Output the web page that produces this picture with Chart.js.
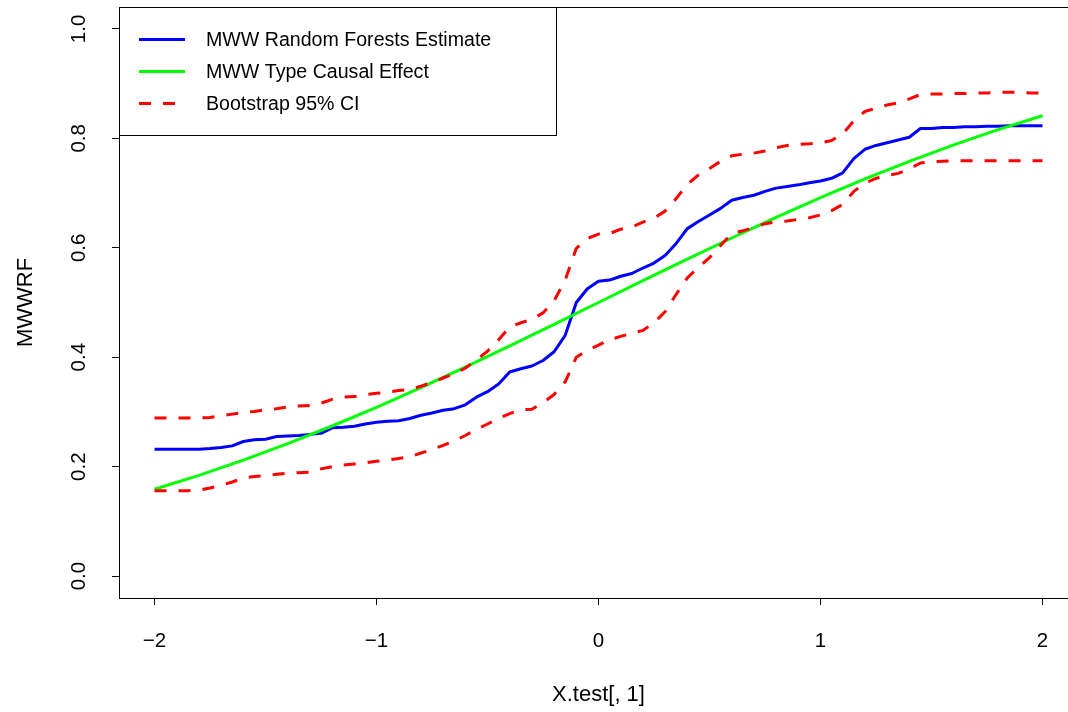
<!DOCTYPE html>
<html>
<head>
<meta charset="utf-8">
<script src="https://cdn.jsdelivr.net/npm/chart.js@4.4.1/dist/chart.umd.min.js"></script>
<style>
html, body { margin: 0; padding: 0; overflow: hidden; background: #ffffff; }
#wrap { width: 1068px; height: 712px; overflow: hidden; position: relative; }
canvas { display: block; }
</style>
</head>
<body>
<div id="wrap"><canvas id="c" width="1100" height="712"></canvas></div>
<script>
// ---- data ----
const xGrid = [-2.00,-1.95,-1.90,-1.85,-1.80,-1.75,-1.70,-1.65,-1.60,-1.55,-1.50,-1.45,-1.40,-1.35,-1.30,-1.25,-1.20,-1.15,-1.10,-1.05,
  -1.00,-0.95,-0.90,-0.85,-0.80,-0.75,-0.70,-0.65,-0.60,-0.55,-0.50,-0.45,-0.40,-0.35,-0.30,-0.25,-0.20,-0.15,-0.10,-0.05,
  0.00,0.05,0.10,0.15,0.20,0.25,0.30,0.35,0.40,0.45,0.50,0.55,0.60,0.65,0.70,0.75,0.80,0.85,0.90,0.95,
  1.00,1.05,1.10,1.15,1.20,1.25,1.30,1.35,1.40,1.45,1.50,1.55,1.60,1.65,1.70,1.75,1.80,1.85,1.90,1.95,2.00];

const rfEstimate = [0.232,0.232,0.232,0.232,0.232,0.233,0.235,0.238,0.246,0.249,0.250,0.255,0.256,0.257,0.259,0.261,0.271,0.272,0.274,0.278,
  0.281,0.283,0.284,0.288,0.294,0.298,0.303,0.306,0.313,0.327,0.337,0.351,0.373,0.379,0.384,0.394,0.410,0.440,0.500,0.525,
  0.539,0.541,0.548,0.553,0.563,0.572,0.586,0.608,0.635,0.648,0.660,0.672,0.687,0.692,0.696,0.703,0.709,0.712,0.715,0.719,
  0.722,0.727,0.737,0.763,0.780,0.787,0.792,0.797,0.802,0.818,0.818,0.820,0.820,0.821,0.821,0.822,0.822,0.823,0.823,0.823,0.823];

const ciUpper = [0.289,0.289,0.289,0.289,0.289,0.290,0.293,0.296,0.299,0.301,0.304,0.306,0.309,0.311,0.312,0.316,0.323,0.327,0.328,0.332,
  0.334,0.336,0.339,0.341,0.347,0.354,0.362,0.370,0.380,0.395,0.411,0.432,0.455,0.463,0.469,0.481,0.503,0.541,0.599,0.617,
  0.625,0.626,0.634,0.638,0.647,0.654,0.667,0.690,0.716,0.733,0.745,0.758,0.768,0.771,0.773,0.777,0.783,0.787,0.789,0.790,
  0.792,0.796,0.808,0.832,0.849,0.855,0.861,0.865,0.872,0.880,0.881,0.881,0.882,0.882,0.883,0.883,0.884,0.884,0.884,0.883,0.883];

const ciLower = [0.156,0.156,0.156,0.156,0.157,0.161,0.166,0.172,0.179,0.182,0.184,0.186,0.188,0.189,0.190,0.196,0.200,0.203,0.205,0.207,
  0.210,0.212,0.215,0.218,0.225,0.231,0.239,0.247,0.257,0.268,0.278,0.288,0.297,0.304,0.305,0.317,0.332,0.355,0.400,0.413,
  0.422,0.432,0.438,0.444,0.449,0.463,0.483,0.515,0.545,0.564,0.582,0.604,0.626,0.631,0.637,0.644,0.647,0.649,0.652,0.655,
  0.660,0.668,0.679,0.703,0.718,0.727,0.732,0.736,0.744,0.755,0.757,0.758,0.759,0.759,0.759,0.759,0.759,0.759,0.759,0.759,0.759];

const xTrue = [-2.0,-1.8,-1.6,-1.4,-1.2,-1.0,-0.8,-0.6,-0.4,-0.2,0.0,0.2,0.4,0.6,0.8,1.0,1.2,1.4,1.6,1.8,2.0];
const trueEffect = [0.1587,0.1841,0.2119,0.2420,0.2743,0.3085,0.3446,0.3821,0.4207,0.4602,0.5000,
  0.5398,0.5793,0.6179,0.6554,0.6915,0.7257,0.7580,0.7881,0.8159,0.8413];

const xTickValues = [-2, -1, 0, 1, 2];
const xTickLabels = ['\u22122', '\u22121', '0', '1', '2'];
const yTickValues = [0, 0.2, 0.4, 0.6, 0.8, 1.0];
const yTickLabels = ['0.0', '0.2', '0.4', '0.6', '0.8', '1.0'];

const legendLabels = ['MWW Random Forests Estimate', 'MWW Type Causal Effect', 'Bootstrap 95% CI'];
const legendColors = ['#0000ff', '#00ff00', '#ff0000'];
const legendDashed = [false, false, true];

const xTitle = 'X.test[, 1]';
const yTitle = 'MWWRF';

// ---- styles ----
const FF = '"Liberation Sans", Arial, Helvetica, sans-serif';
const TICK_FS = 20.5;
const TITLE_FS = 22;
const LEG_FS = 19.6;
const LW = 3;
const DASH = [12, 12];

function pts(xs, ys) { return xs.map((x, i) => ({ x: x, y: ys[i] })); }

const boxPlugin = {
  id: 'rbox',
  afterDraw(chart) {
    const ctx = chart.ctx;
    const a = chart.chartArea;
    const L = Math.round(a.left) + 0.5, T = Math.round(a.top) + 0.5;
    const R = Math.round(a.right) + 0.5, B = Math.round(a.bottom) + 0.5;
    ctx.save();
    ctx.strokeStyle = '#000';
    ctx.lineWidth = 1;
    ctx.setLineDash([]);
    ctx.strokeRect(L, T, R - L, B - T);
    // rotated y tick labels (R style)
    const ys = chart.scales.y;
    ctx.fillStyle = '#000';
    ctx.font = TICK_FS + 'px ' + FF;
    ctx.textAlign = 'center';
    ctx.textBaseline = 'middle';
    yTickValues.forEach((v, i) => {
      const py = ys.getPixelForValue(v);
      ctx.save();
      ctx.translate(79, py);
      ctx.rotate(-Math.PI / 2);
      ctx.fillText(yTickLabels[i], 0, 0);
      ctx.restore();
    });
    // legend box
    const lw = 437, lh = 128;
    ctx.fillStyle = '#fff';
    ctx.fillRect(L, T, lw, lh);
    ctx.strokeStyle = '#000';
    ctx.lineWidth = 1;
    ctx.strokeRect(L, T, lw, lh);
    const rowY = [39.5, 71.5, 103.5];
    ctx.font = LEG_FS + 'px ' + FF;
    ctx.textAlign = 'left';
    ctx.textBaseline = 'middle';
    legendLabels.forEach((lab, i) => {
      ctx.save();
      ctx.strokeStyle = legendColors[i];
      ctx.lineWidth = LW;
      ctx.lineCap = 'butt';
      ctx.setLineDash(legendDashed[i] ? DASH : []);
      ctx.beginPath();
      ctx.moveTo(139, rowY[i]);
      ctx.lineTo(185, rowY[i]);
      ctx.stroke();
      ctx.restore();
      ctx.fillStyle = '#000';
      ctx.fillText(lab, 206, rowY[i] + 1);
    });
    ctx.restore();
  }
};

const ctx = document.getElementById('c').getContext('2d');
new Chart(ctx, {
  type: 'line',
  data: {
    datasets: [
      { label: legendLabels[2], data: pts(xGrid, ciUpper), borderColor: '#ff0000', borderWidth: LW, borderDash: DASH, pointRadius: 0, fill: false, tension: 0 },
      { label: legendLabels[2] + ' lower', data: pts(xGrid, ciLower), borderColor: '#ff0000', borderWidth: LW, borderDash: DASH, pointRadius: 0, fill: false, tension: 0 },
      { label: legendLabels[1], data: pts(xTrue, trueEffect), borderColor: '#00ff00', borderWidth: LW, pointRadius: 0, fill: false, tension: 0 },
      { label: legendLabels[0], data: pts(xGrid, rfEstimate), borderColor: '#0000ff', borderWidth: LW, pointRadius: 0, fill: false, tension: 0 }
    ]
  },
  options: {
    responsive: false,
    animation: false,
    devicePixelRatio: 1,
    layout: { padding: { left: 0, top: 7, right: 22, bottom: 0 } },
    plugins: { legend: { display: false }, tooltip: { enabled: false } },
    elements: { line: { borderCapStyle: 'butt', borderJoinStyle: 'round' } },
    scales: {
      x: {
        type: 'linear',
        min: -2.16, max: 2.16,
        afterBuildTicks: (s) => { s.ticks = xTickValues.map(v => ({ value: v })); },
        afterFit: (s) => { s.height = 114; },
        grid: { display: true, drawOnChartArea: false, drawTicks: true, tickLength: 7, color: '#000', lineWidth: 1 },
        border: { display: false },
        ticks: {
          color: '#000', font: { family: FF, size: TICK_FS }, padding: 24, maxRotation: 0, minRotation: 0,
          callback: (v) => { const i = xTickValues.indexOf(v); return i >= 0 ? xTickLabels[i] : ''; }
        },
        title: { display: true, text: xTitle, color: '#000', font: { family: FF, size: TITLE_FS }, padding: { top: 4, bottom: 4 } }
      },
      y: {
        type: 'linear',
        min: -0.04, max: 1.04,
        afterBuildTicks: (s) => { s.ticks = yTickValues.map(v => ({ value: v })); },
        afterFit: (s) => { s.width = 119; },
        grid: { display: true, drawOnChartArea: false, drawTicks: true, tickLength: 7, color: '#000', lineWidth: 1 },
        border: { display: false },
        ticks: { display: false },
        title: { display: true, text: yTitle, color: '#000', font: { family: FF, size: TITLE_FS }, padding: { top: 13, bottom: 13 } }
      }
    }
  },
  plugins: [boxPlugin]
});
</script>
</body>
</html>
